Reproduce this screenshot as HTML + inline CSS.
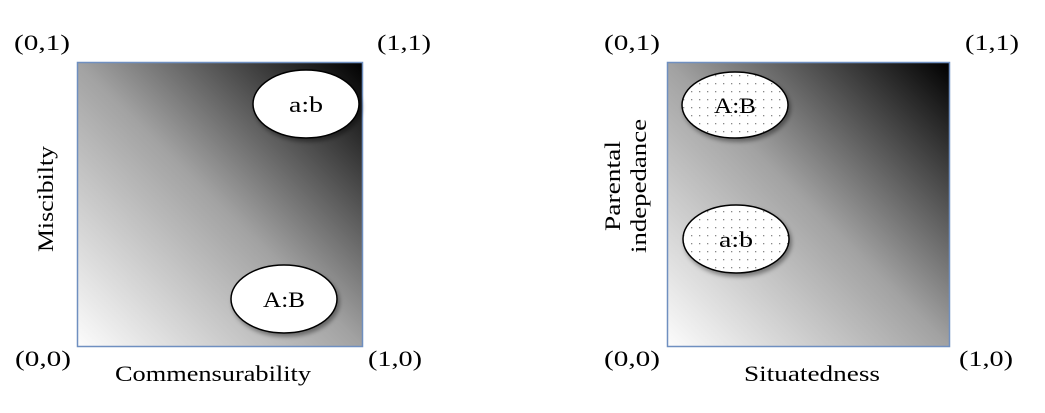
<!DOCTYPE html>
<html><head><style>body{margin:0;background:#fff}</style></head><body>
<svg width="1045" height="408" xmlns="http://www.w3.org/2000/svg" font-family="Liberation Serif, serif" font-size="22" fill="#000">
<defs>
<linearGradient id="g" x1="0" y1="1" x2="1" y2="0">
<stop offset="0" stop-color="#fcfcfc"/><stop offset="0.5" stop-color="#a2a2a2"/><stop offset="1" stop-color="#000"/>
</linearGradient>
<pattern id="d" width="8" height="8" patternUnits="userSpaceOnUse">
<rect width="8" height="8" fill="#fff"/><rect x="3" y="3" width="1.3" height="1.3" fill="#888"/>
</pattern>
<filter id="s" x="-20%" y="-20%" width="150%" height="150%"><feDropShadow dx="2" dy="3" stdDeviation="2" flood-opacity="0.4"/></filter>
</defs>
<rect x="77.5" y="62.5" width="285" height="284" fill="url(#g)" stroke="#6f8fc0" stroke-width="1.5"/>
<rect x="667.5" y="62.5" width="282" height="284" fill="url(#g)" stroke="#6f8fc0" stroke-width="1.5"/>
<g stroke="#000" stroke-width="1.5" filter="url(#s)">
<ellipse cx="306" cy="104" rx="53" ry="34" fill="#fff"/>
<ellipse cx="284" cy="299" rx="53" ry="34" fill="#fff"/>
<ellipse cx="735" cy="105" rx="53" ry="33" fill="url(#d)"/>
<ellipse cx="736" cy="239" rx="53" ry="34" fill="url(#d)"/>
</g>
<g text-anchor="middle">
<text x="306" y="112" textLength="34" lengthAdjust="spacingAndGlyphs">a:b</text>
<text x="284" y="307" textLength="42" lengthAdjust="spacingAndGlyphs">A:B</text>
<text x="735" y="113" textLength="42" lengthAdjust="spacingAndGlyphs">A:B</text>
<text x="736" y="247" textLength="34" lengthAdjust="spacingAndGlyphs">a:b</text>
<text x="42" y="50" textLength="56" lengthAdjust="spacingAndGlyphs">(0,1)</text>
<text x="404" y="50" textLength="54" lengthAdjust="spacingAndGlyphs">(1,1)</text>
<text x="43" y="366" textLength="56" lengthAdjust="spacingAndGlyphs">(0,0)</text>
<text x="395" y="366" textLength="54" lengthAdjust="spacingAndGlyphs">(1,0)</text>
<text x="213" y="381" textLength="196" lengthAdjust="spacingAndGlyphs">Commensurability</text>
<text x="632" y="50" textLength="56" lengthAdjust="spacingAndGlyphs">(0,1)</text>
<text x="992" y="50" textLength="54" lengthAdjust="spacingAndGlyphs">(1,1)</text>
<text x="632" y="366" textLength="56" lengthAdjust="spacingAndGlyphs">(0,0)</text>
<text x="986" y="366" textLength="54" lengthAdjust="spacingAndGlyphs">(1,0)</text>
<text x="812" y="381" textLength="136" lengthAdjust="spacingAndGlyphs">Situatedness</text>
<text transform="translate(53,199) rotate(-90)" textLength="106" lengthAdjust="spacingAndGlyphs">Miscibilty</text>
<text transform="translate(620,186) rotate(-90)" textLength="90" lengthAdjust="spacingAndGlyphs">Parental</text>
<text transform="translate(646,186) rotate(-90)" textLength="134" lengthAdjust="spacingAndGlyphs">indepedance</text>
</g>
</svg>
</body></html>
